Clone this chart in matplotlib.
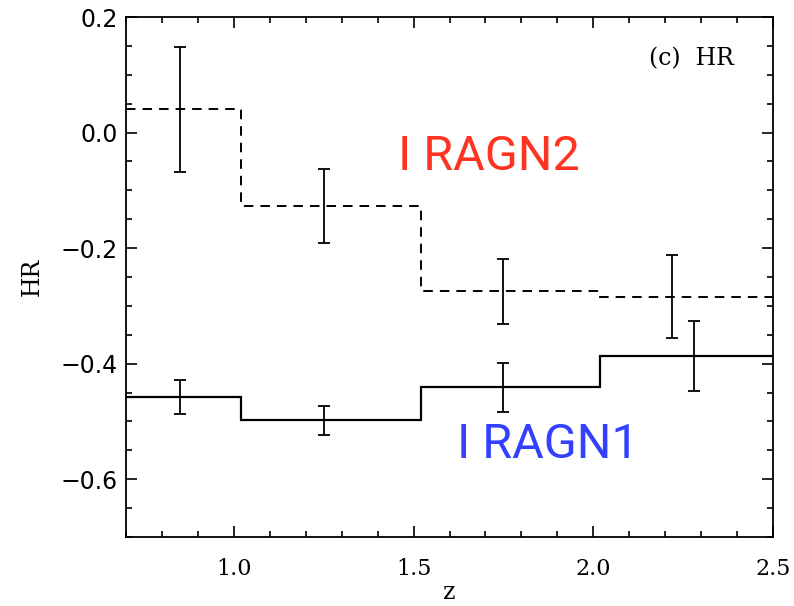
import matplotlib
matplotlib.use("Agg")
import matplotlib.pyplot as plt
from matplotlib.ticker import MultipleLocator, FuncFormatter

# redshift bins shared by both samples
z_edges = [0.7, 1.02, 1.52, 2.02, 2.5]

# IRAGN1 (solid)
hr1 = [-0.458, -0.498, -0.441, -0.387]
hr1_z = [0.85, 1.25, 1.75, 2.28]
hr1_err = [0.029, 0.025, 0.042, 0.060]

# IRAGN2 (dashed)
hr2 = [0.040, -0.127, -0.275, -0.284]
hr2_z = [0.85, 1.25, 1.75, 2.22]
hr2_err = [0.108, 0.064, 0.056, 0.072]

fig = plt.figure(figsize=(7.94, 6.06), dpi=100)
ax = fig.add_axes([0.1587, 0.1139, 0.8149, 0.858])

ax.stairs(hr1, z_edges, baseline=None, color="black", lw=1.6)
ax.stairs(hr2, z_edges, baseline=None, color="black", lw=1.4,
          ls=(0, (4.9, 3.6)))

ax.errorbar(hr1_z, hr1, yerr=hr1_err, fmt="none", ecolor="black",
            elinewidth=1.3, capsize=4, capthick=1.3)
ax.errorbar(hr2_z, hr2, yerr=hr2_err, fmt="none", ecolor="black",
            elinewidth=1.3, capsize=4, capthick=1.3)

ax.set_xlim(0.7, 2.5)
ax.set_ylim(-0.7, 0.2)
ax.xaxis.set_major_locator(MultipleLocator(0.5))
ax.xaxis.set_minor_locator(MultipleLocator(0.1))
ax.yaxis.set_major_locator(MultipleLocator(0.2))
ax.yaxis.set_minor_locator(MultipleLocator(0.05))
ax.yaxis.set_major_formatter(FuncFormatter(lambda v, p: f"{v:.1f}".replace("-", "\u2212")))
ax.xaxis.set_major_formatter(FuncFormatter(lambda v, p: f"{v:.1f}"))

ax.tick_params(which="both", direction="in", top=True, right=True,
               width=1.2, colors="black")
ax.tick_params(which="major", length=8)
ax.tick_params(which="minor", length=4)
ax.tick_params(axis="x", which="major", pad=15, labelsize=16)
ax.tick_params(axis="y", which="major", pad=6, labelsize=17)
for lbl in ax.get_xticklabels():
    lbl.set_family("DejaVu Serif")
for lbl in ax.get_yticklabels():
    lbl.set_family("DejaVu Sans")
for s in ax.spines.values():
    s.set_linewidth(1.3)

ax.set_xlabel("z", family="DejaVu Serif", fontsize=17, labelpad=1)
ax.set_ylabel("HR", family="DejaVu Serif", fontsize=17, labelpad=12)

ax.text(0.94, 0.92, "(c)  HR", transform=ax.transAxes, ha="right",
        va="center", family="DejaVu Serif", fontsize=17)
ax.text(1.71, -0.065, "I RAGN2", color="#ff3322", family="Roboto",
        fontsize=35, ha="center", va="baseline")
ax.text(1.873, -0.563, "I RAGN1", color="#3340ff", family="Roboto",
        fontsize=35, ha="center", va="baseline")

fig.savefig("out.png", dpi=100)
